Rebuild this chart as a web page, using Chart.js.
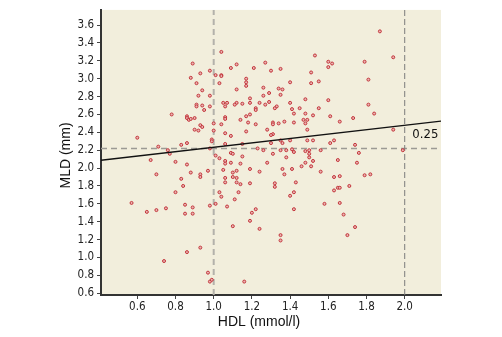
<!DOCTYPE html>
<html>
<head>
<meta charset="utf-8">
<script src="https://cdn.jsdelivr.net/npm/chart.js@4.4.1/dist/chart.umd.min.js"></script>
<style>
  html, body { margin: 0; padding: 0; background: #fff; }
  #wrap { width: 502px; height: 337px; }
</style>
</head>
<body>
<div id="wrap"><canvas id="chart" width="502" height="337"></canvas></div>
<script>
// HDL (mmol/l) vs MLD (mm), one pair per patient
const points = [
  [0.89,3.17],[0.98,3.09],[0.93,3.06],[0.88,3.01],[0.91,2.95],[0.94,2.87],[0.92,2.81],[0.98,2.81],
  [0.91,2.71],[0.91,2.69],[0.94,2.70],[0.98,2.69],[0.95,2.65],[0.78,2.60],[0.86,2.58],[0.86,2.56],
  [0.87,2.54],[0.88,2.55],[0.90,2.56],[0.93,2.48],[0.94,2.46],[1.00,2.50],[0.90,2.43],[0.92,2.42],
  [1.00,2.42],[0.60,2.34],[0.99,2.32],[0.99,2.30],[0.86,2.28],[0.83,2.26],[0.71,2.24],[0.76,2.20],
  [0.98,2.22],
  [1.04,3.30],[1.53,3.26],[1.27,3.18],[1.60,3.19],[1.62,3.17],[1.09,3.12],[1.12,3.16],[1.21,3.12],
  [1.30,3.09],[1.35,3.11],[1.60,3.13],[1.51,3.07],[1.01,3.04],[1.04,3.04],[1.04,3.03],[1.17,3.00],
  [1.17,2.96],[1.17,2.92],[1.03,2.95],[1.12,2.88],[1.26,2.90],[1.34,2.89],[1.36,2.88],[1.40,2.96],
  [1.51,2.95],[1.55,2.97],[1.29,2.84],[1.35,2.82],[1.26,2.81],[1.19,2.78],[1.19,2.73],[1.05,2.73],
  [1.07,2.73],[1.06,2.69],[1.12,2.73],[1.11,2.71],[1.15,2.72],[1.24,2.73],[1.27,2.71],[1.29,2.74],
  [1.33,2.69],[1.32,2.67],[1.40,2.73],[1.48,2.77],[1.60,2.76],[1.22,2.67],[1.22,2.65],[1.41,2.66],
  [1.45,2.67],[1.55,2.67],[1.42,2.61],[1.48,2.61],[1.19,2.60],[1.06,2.57],[1.06,2.55],[1.17,2.58],
  [1.14,2.54],[1.18,2.51],[1.22,2.49],[1.31,2.51],[1.31,2.49],[1.34,2.50],[1.37,2.52],[1.42,2.51],
  [1.47,2.54],[1.49,2.54],[1.48,2.50],[1.52,2.59],[1.61,2.58],[1.04,2.49],[1.06,2.39],[1.09,2.36],
  [1.17,2.41],[1.28,2.43],[1.31,2.38],[1.30,2.37],[1.49,2.43],[1.06,2.27],[1.15,2.27],[1.30,2.28],
  [1.36,2.28],[1.40,2.31],[1.49,2.31],[1.52,2.31],[1.63,2.31],[1.61,2.28],[1.35,2.31],
  [1.87,3.53],[1.94,3.24],[1.79,3.19],[1.81,2.99],[1.81,2.71],[1.84,2.61],[1.66,2.52],[1.73,2.56],
  [1.94,2.43],[1.74,2.26],
  [0.77,2.16],[0.67,2.09],[0.80,2.07],[0.86,2.04],[0.88,1.95],[0.93,1.93],[0.93,1.90],[0.97,1.97],
  [0.70,1.93],[0.83,1.88],[0.84,1.80],[0.80,1.73],[0.57,1.61],[0.65,1.51],[0.70,1.53],[0.75,1.55],
  [0.85,1.59],[0.89,1.56],[0.85,1.49],[0.89,1.49],[0.98,1.58],[0.93,1.11],[0.86,1.06],[0.74,0.96],
  [0.97,0.83],[0.98,0.73],[0.99,0.75],
  [1.01,2.14],[1.03,2.11],[1.09,2.17],[1.10,2.16],[1.15,2.13],[1.06,2.08],[1.06,2.05],[1.09,2.06],
  [1.14,2.05],[1.23,2.22],[1.26,2.20],[1.31,2.16],[1.35,2.20],[1.38,2.20],[1.41,2.21],[1.42,2.18],
  [1.48,2.19],[1.50,2.20],[1.50,2.16],[1.50,2.12],[1.56,2.20],[1.38,2.12],[1.28,2.06],[1.05,1.98],
  [1.12,1.97],[1.10,1.95],[1.19,1.99],[1.24,1.96],[1.36,1.99],[1.41,1.99],[1.48,2.06],[1.46,2.02],
  [1.51,2.02],[1.52,2.08],[1.37,1.93],[1.56,1.96],[1.06,1.89],[1.10,1.90],[1.12,1.89],[1.06,1.84],
  [1.12,1.84],[1.14,1.82],[1.19,1.83],[1.32,1.83],[1.32,1.79],[1.43,1.84],[1.03,1.73],[1.04,1.68],
  [1.13,1.73],[1.11,1.65],[1.01,1.60],[1.42,1.73],[1.40,1.69],[1.58,1.60],[1.07,1.57],[1.22,1.54],
  [1.42,1.54],[1.20,1.50],[1.19,1.41],[1.10,1.35],[1.24,1.32],[1.35,1.25],[1.35,1.19],[1.16,0.73],
  [1.76,2.17],[1.99,2.20],[1.65,2.09],[1.75,2.06],[1.63,1.90],[1.66,1.91],[1.79,1.92],[1.82,1.93],
  [1.71,1.80],[1.63,1.75],[1.65,1.78],[1.66,1.78],[1.66,1.61],[1.68,1.48],[1.74,1.34],[1.70,1.25]
];

const xTicks = [0.6, 0.8, 1.0, 1.2, 1.4, 1.6, 1.8, 2.0];
const yTicks = [0.6, 0.8, 1.0, 1.2, 1.4, 1.6, 1.8, 2.0, 2.2, 2.4, 2.6, 2.8, 3.0, 3.2, 3.4, 3.6];
const xRange = [0.41, 2.19];
const yRange = [0.58, 3.77];

// dashed reference lines
const refX = [1.0, 2.0];
const refY = 2.22;

// regression line
const fit = { slope: 0.246, intercept: 1.987 };
const fitLabel = '0.25';
const fitLabelAt = [2.04, 2.38];

const xTitle = 'HDL (mmol/l)';
const yTitle = 'MLD (mm)';

const NARROW = "'Liberation Sans Narrow', 'Arial Narrow', 'DejaVu Sans Condensed', sans-serif";
const REGULAR = "'Liberation Sans', Arial, sans-serif";

const plotBg = {
  id: 'plotBg',
  beforeDraw(chart) {
    const a = chart.chartArea, ctx = chart.ctx;
    ctx.save();
    ctx.fillStyle = '#f2eedc';
    ctx.fillRect(a.left, a.top, a.right - a.left, a.bottom - a.top);
    ctx.restore();
  }
};

const texts = {
  id: 'texts',
  afterDraw(chart) {
    const a = chart.chartArea, ctx = chart.ctx;
    const sx = chart.scales.x, sy = chart.scales.y;
    ctx.save();
    ctx.fillStyle = '#111';
    // slope label
    ctx.font = '13px ' + NARROW;
    ctx.textAlign = 'left';
    ctx.textBaseline = 'middle';
    ctx.fillText(fitLabel, sx.getPixelForValue(fitLabelAt[0]), sy.getPixelForValue(fitLabelAt[1]));
    // axis titles
    ctx.font = '14px ' + REGULAR;
    ctx.textAlign = 'center';
    ctx.fillText(xTitle, 259, a.bottom + 27.5);
    ctx.translate(a.left - 35, (a.top + a.bottom) / 2 + 3);
    ctx.rotate(-Math.PI / 2);
    ctx.fillText(yTitle, 0, 0);
    ctx.restore();
  }
};

function lineSet(data, color, width, dash, order) {
  return {
    type: 'scatter',
    data: data,
    showLine: true,
    pointRadius: 0,
    borderColor: color,
    borderWidth: width,
    borderDash: dash,
    order: order
  };
}

const fitY = x => fit.intercept + fit.slope * x;

const datasets = [
  lineSet([{ x: xRange[0], y: fitY(xRange[0]) }, { x: xRange[1], y: fitY(xRange[1]) }], '#111', 1.4, [], 0),
  {
    data: points.map(p => ({ x: p[0], y: p[1] })),
    pointStyle: 'circle',
    pointRadius: 1.5,
    pointBorderWidth: 1,
    pointBorderColor: '#c4363c',
    pointBackgroundColor: '#eab4b2',
    order: 1
  },
  lineSet([{ x: refX[0], y: yRange[0] }, { x: refX[0], y: yRange[1] }], '#b3b1aa', 2, [6, 4], 2),
  lineSet([{ x: refX[1], y: yRange[0] }, { x: refX[1], y: yRange[1] }], '#7c7c7c', 1, [6, 3], 2),
  lineSet([{ x: xRange[0], y: refY }, { x: xRange[1], y: refY }], '#9c9a94', 1.4, [6, 4], 2)
];

const tickFont = { family: NARROW, size: 11.5 };

new Chart(document.getElementById('chart'), {
  type: 'scatter',
  data: { datasets: datasets },
  options: {
    responsive: false,
    animation: false,
    layout: { padding: { top: 4, right: 61, left: 0, bottom: 0 } },
    plugins: { legend: { display: false }, tooltip: { enabled: false } },
    scales: {
      x: {
        type: 'linear',
        min: xRange[0],
        max: xRange[1],
        afterBuildTicks: s => { s.ticks = xTicks.map(v => ({ value: v })); },
        afterFit: s => { s.height = 42; },
        ticks: { callback: v => v.toFixed(1), font: tickFont, color: '#222', padding: 1, maxRotation: 0 },
        grid: { drawOnChartArea: false, drawTicks: true, tickLength: 4, tickColor: '#444', tickWidth: 1 },
        border: { color: '#333', width: 2 }
      },
      y: {
        type: 'linear',
        min: yRange[0],
        max: yRange[1],
        afterBuildTicks: s => { s.ticks = yTicks.map(v => ({ value: v })); },
        afterFit: s => { s.width = 101; },
        ticks: { callback: v => v.toFixed(1), font: tickFont, color: '#222', padding: 3 },
        grid: { drawOnChartArea: false, drawTicks: true, tickLength: 4, tickColor: '#444', tickWidth: 1 },
        border: { color: '#333', width: 2 }
      }
    }
  },
  plugins: [plotBg, texts]
});
</script>
</body>
</html>
